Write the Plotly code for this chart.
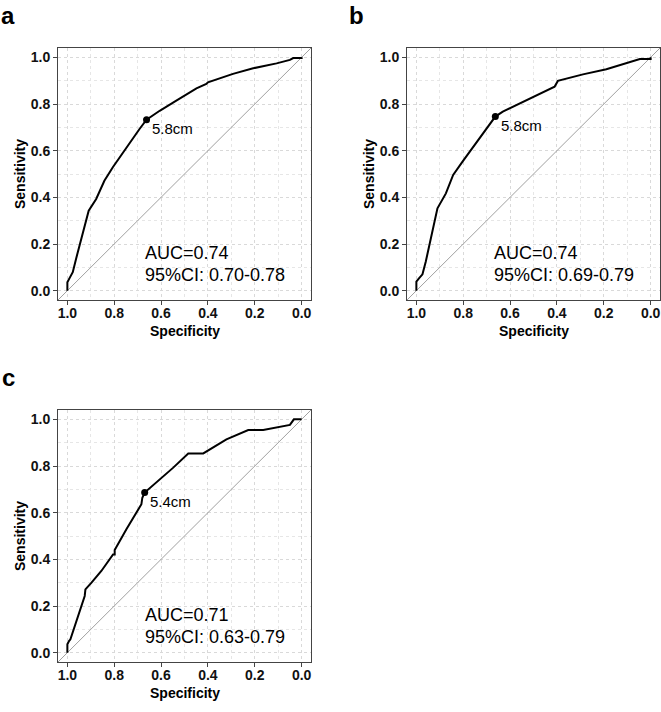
import plotly.graph_objects as go

# ---- data ----
spec_a = [1.0, 1.0, 0.989, 0.977, 0.963, 0.913, 0.909, 0.877, 0.842, 0.806, 0.777, 0.735, 0.692, 0.662,
          0.606, 0.535, 0.449, 0.407, 0.400, 0.293, 0.207, 0.107, 0.050, 0.036, 0.0, 0.0]
sens_a = [0.0, 0.036, 0.057, 0.079, 0.136, 0.329, 0.343, 0.393, 0.471, 0.529, 0.571, 0.636, 0.693, 0.733,
          0.771, 0.814, 0.867, 0.886, 0.893, 0.929, 0.953, 0.974, 0.989, 0.997, 0.997, 1.0]

spec_b = [1.0, 1.0, 0.989, 0.974, 0.960, 0.917, 0.910, 0.910, 0.874, 0.843, 0.803, 0.767, 0.717, 0.663,
          0.631, 0.517, 0.410, 0.396, 0.289, 0.189, 0.089, 0.046, 0.0, 0.0]
sens_b = [0.0, 0.039, 0.053, 0.070, 0.124, 0.310, 0.339, 0.353, 0.417, 0.496, 0.553, 0.603, 0.667, 0.746,
          0.767, 0.824, 0.874, 0.899, 0.927, 0.949, 0.981, 0.993, 0.993, 1.0]

spec_c = [1.0, 1.0, 0.993, 0.987, 0.926, 0.923, 0.897, 0.855, 0.805, 0.798, 0.798, 0.748, 0.684, 0.680,
          0.670, 0.605, 0.548, 0.484, 0.420, 0.321, 0.228, 0.164, 0.050, 0.033, 0.0]
sens_c = [0.0, 0.036, 0.050, 0.057, 0.243, 0.271, 0.300, 0.350, 0.421, 0.421, 0.440, 0.529, 0.636, 0.664,
          0.686, 0.743, 0.793, 0.854, 0.854, 0.914, 0.954, 0.954, 0.976, 1.0, 1.0]

cut_points = [(0.662, 0.733), (0.663, 0.746), (0.670, 0.686)]
cut_labels = ["5.8cm", "5.8cm", "5.4cm"]
auc_labels = ["AUC=0.74", "AUC=0.74", "AUC=0.71"]
ci_labels = ["95%CI: 0.70-0.78", "95%CI: 0.69-0.79", "95%CI: 0.63-0.79"]
panel_letters = ["a", "b", "c"]
tick_vals = [1.0, 0.8, 0.6, 0.4, 0.2, 0.0]
tick_text = ["1.0", "0.8", "0.6", "0.4", "0.2", "0.0"]

W, H = 661, 712
FONT = "Liberation Sans, Arial, sans-serif"

# plot-area boxes in pixels: (left, right, top, bottom)
boxes = [(58, 311, 48, 300), (407, 660, 48, 300), (58, 311, 410, 662)]

fig = go.Figure()
curves = [(spec_a, sens_a), (spec_b, sens_b), (spec_c, sens_c)]
annotations = []
for i, ((sx, sy), (l, r, t, b)) in enumerate(zip(curves, boxes)):
    n = "" if i == 0 else str(i + 1)
    xa, ya = "x" + n, "y" + n
    # diagonal reference
    fig.add_trace(go.Scatter(x=[1.04, -0.04], y=[-0.04, 1.04], mode="lines",
                             line=dict(color="#a0a0a0", width=1), xaxis=xa, yaxis=ya,
                             showlegend=False, hoverinfo="skip"))
    fig.add_trace(go.Scatter(x=sx, y=sy, mode="lines", line=dict(color="black", width=2),
                             xaxis=xa, yaxis=ya, showlegend=False))
    px, py = cut_points[i]
    fig.add_trace(go.Scatter(x=[px], y=[py], mode="markers", marker=dict(color="black", size=7),
                             xaxis=xa, yaxis=ya, showlegend=False))
    axis_common = dict(showline=True, linecolor="#444", linewidth=1, mirror=True,
                       ticks="outside", ticklen=4, tickcolor="#444",
                       tickvals=tick_vals, ticktext=tick_text,
                       tickfont=dict(family=FONT, size=14, color="#111", weight="bold"),
                       showgrid=True, gridcolor="#d9d9d9", griddash="dot", gridwidth=1,
                       minor=dict(dtick=0.1, tick0=0, showgrid=True, gridcolor="#e6e6e6",
                                  griddash="dot", gridwidth=1, ticks=""),
                       zeroline=False, fixedrange=True)
    xd = [l / W, r / W]
    yd = [1 - b / H, 1 - t / H]
    xaxis = dict(axis_common, domain=xd, range=[1.04, -0.04], anchor=ya, ticklabelstandoff=-4)
    yaxis = dict(axis_common, domain=yd, range=[-0.04, 1.04], anchor=xa)
    fig.layout["xaxis" + n] = xaxis
    fig.layout["yaxis" + n] = yaxis

    # text annotations in data coords
    annotations.append(dict(x=px - 0.016, y=py - 0.04, xref=xa, yref=ya, text=cut_labels[i],
                            showarrow=False, xanchor="left", yanchor="middle",
                            font=dict(family=FONT, size=15, color="black")))
    annotations.append(dict(x=0.676, y=0.16, xref=xa, yref=ya, text=auc_labels[i],
                            showarrow=False, xanchor="left", yanchor="middle",
                            font=dict(family=FONT, size=18, color="black")))
    annotations.append(dict(x=0.676, y=0.066, xref=xa, yref=ya, text=ci_labels[i],
                            showarrow=False, xanchor="left", yanchor="middle",
                            font=dict(family=FONT, size=18, color="black")))
    # axis titles
    annotations.append(dict(x=(l + r) / 2 / W, y=1 - (b + 31) / H, xref="paper", yref="paper",
                            text="Specificity", showarrow=False, xanchor="center", yanchor="middle",
                            font=dict(family=FONT, size=14, color="black", weight="bold")))
    annotations.append(dict(x=(l - 38) / W, y=1 - (t + b) / 2 / H, xref="paper", yref="paper",
                            text="Sensitivity", showarrow=False, textangle=-90,
                            xanchor="center", yanchor="middle",
                            font=dict(family=FONT, size=14, color="black", weight="bold")))
    # panel letter
    annotations.append(dict(x=(l - 50) / W, y=1 - (t - 33) / H, xref="paper", yref="paper",
                            text=panel_letters[i], showarrow=False, xanchor="center", yanchor="middle",
                            font=dict(family=FONT, size=24, color="black", weight="bold")))

fig.update_layout(width=W, height=H, margin=dict(l=0, r=0, t=0, b=0),
                  paper_bgcolor="white", plot_bgcolor="white",
                  annotations=annotations, showlegend=False)

fig.write_html("out.html", config={"displayModeBar": False})
